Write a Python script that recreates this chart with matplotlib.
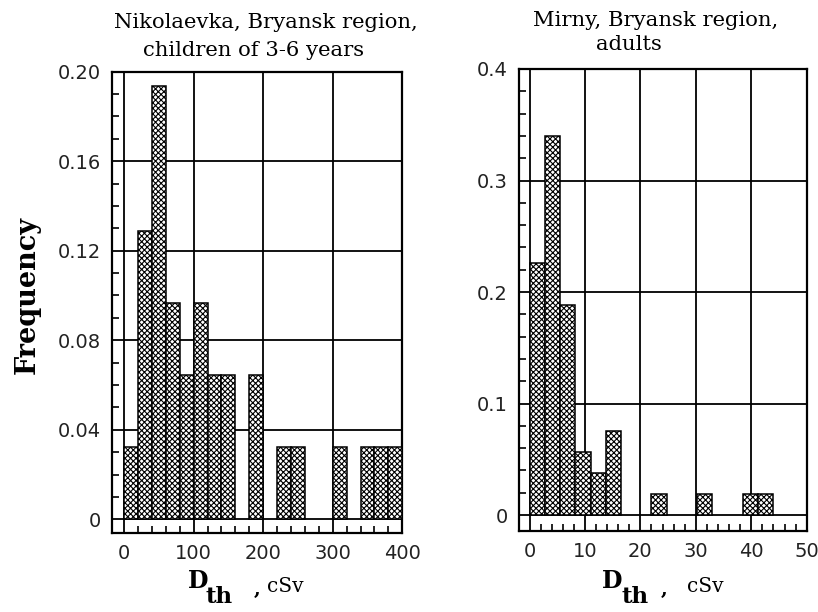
import numpy as np
import matplotlib
matplotlib.use("Agg")
import matplotlib.pyplot as plt
from matplotlib.ticker import MultipleLocator

# Nikolaevka, children 3-6 years: bins of 20 cSv, counts per bin (n = 31)
nik_bin_left = [0, 20, 40, 60, 80, 100, 120, 140, 160, 180,
                200, 220, 240, 260, 280, 300, 320, 340, 360, 380]
nik_counts = [1, 4, 6, 3, 2, 3, 2, 2, 0, 2,
              0, 1, 1, 0, 0, 1, 0, 1, 1, 1]
nik_n = 31

# Mirny, adults: bins of 2.75 cSv, counts per bin (n = 53)
mir_bin_left = [0, 2.75, 5.5, 8.25, 11, 13.75, 16.5, 19.25,
                22, 24.75, 27.5, 30.25, 33, 35.75, 38.5, 41.25]
mir_counts = [12, 18, 10, 3, 2, 4, 0, 0,
              1, 0, 0, 1, 0, 0, 1, 1]
mir_n = 53

nik_yticks = [0, 0.04, 0.08, 0.12, 0.16, 0.20]
nik_ylabels = ["0", "0.04", "0.08", "0.12", "0.16", "0.20"]
mir_yticks = [0, 0.1, 0.2, 0.3, 0.4]
mir_ylabels = ["0", "0.1", "0.2", "0.3", "0.4"]

plt.rcParams["hatch.linewidth"] = 0.8
plt.rcParams["font.family"] = "DejaVu Sans"

W, H = 818, 612
fig = plt.figure(figsize=(W / 100, H / 100), dpi=100)


def fx(px):
    return px / W


def fy(py):
    return 1 - py / H


def panel(rect, left, counts, n, width, xlim, ylim, xmajor, xminor,
          yticks, ylabels, yminor):
    ax = fig.add_axes(rect)
    freq = np.array(counts) / n
    for x, f in zip(left, freq):
        if f > 0:
            ax.bar(x, f, width=width, align="edge", color="white",
                   edgecolor="black", hatch="xxxxxx", lw=1.1, zorder=3)
    ax.set_xlim(*xlim)
    ax.set_ylim(*ylim)
    ax.xaxis.set_major_locator(MultipleLocator(xmajor))
    ax.xaxis.set_minor_locator(MultipleLocator(xminor))
    ax.set_yticks(yticks)
    ax.set_yticklabels(ylabels)
    ax.yaxis.set_minor_locator(MultipleLocator(yminor))
    ax.grid(True, which="major", color="black", lw=1.3)
    ax.set_axisbelow(True)
    ax.tick_params(which="major", length=0, labelsize=14, pad=8,
                   colors="#222222")
    ax.tick_params(which="minor", direction="in", length=5, width=1.2)
    for s in ax.spines.values():
        s.set_linewidth(1.6)
    return ax


ax1 = panel([fx(112.3), fy(532.7), fx(402.3) - fx(112.3), fy(71.7) - fy(532.7)],
            nik_bin_left, nik_counts, nik_n, 20, (-17, 400), (-0.006, 0.20),
            100, 20, nik_yticks, nik_ylabels, 0.01)
ax2 = panel([fx(519), fy(530.7), fx(806.7) - fx(519), fy(69) - fy(530.7)],
            mir_bin_left, mir_counts, mir_n, 2.75, (-1.9, 50), (-0.014, 0.4),
            10, 2, mir_yticks, mir_ylabels, 0.02)

serif = "DejaVu Serif"
fig.text(fx(265.7), fy(23), "Nikolaevka, Bryansk region,", ha="center",
         va="center", family=serif, fontsize=15.2)
fig.text(fx(254), fy(50), "children of 3-6 years", ha="center",
         va="center", family=serif, fontsize=15.2)
fig.text(fx(656), fy(20), "Mirny, Bryansk region,", ha="center",
         va="center", family=serif, fontsize=15.2)
fig.text(fx(629), fy(45), "adults", ha="center", va="center",
         family=serif, fontsize=15.2)

fig.text(fx(27), fy(295), "Frequency", rotation=90, ha="center",
         va="center", family=serif, fontweight="bold", fontsize=19.5)

# x axis labels: D_th , cSv
for x0, xs, xcomma, xc in [(188, 206, 254, 267), (602, 622, 661, 687)]:
    fig.text(fx(x0), fy(581), "D", ha="left", va="center", family=serif,
             fontweight="bold", fontsize=17)
    fig.text(fx(xs), fy(597), "th", ha="left", va="center", family=serif,
             fontweight="bold", fontsize=16.5)
    fig.text(fx(xcomma), fy(590), ",", ha="left", va="center",
             family=serif, fontweight="bold", fontsize=14)
    fig.text(fx(xc), fy(587), "cSv", ha="left", va="center",
             family=serif, fontsize=14.5)

fig.savefig("out.png", dpi=100)
